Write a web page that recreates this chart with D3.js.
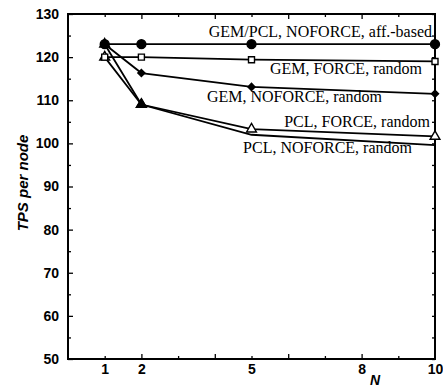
<!DOCTYPE html>
<html>
<head>
<meta charset="utf-8">
<script src="https://cdn.jsdelivr.net/npm/d3@7"></script>
<style>
  html, body { margin: 0; padding: 0; background: #fff; }
  svg { display: block; }
</style>
</head>
<body>
<svg id="chart" width="443" height="392"></svg>
<script>
// ---- data ----
const nValues = [1, 2, 5, 10];
const affBased = [123, 123, 123, 123];          // GEM/PCL, NOFORCE, aff.-based (filled circle)
const gemForce = [120, 120, 119.4, 119.0];      // GEM, FORCE, random (open square)
const gemNoforce = [123, 116.3, 113.1, 111.5];  // GEM, NOFORCE, random (filled diamond)
const pclForce = [120, 109, 103.3, 101.6];      // PCL, FORCE, random (open triangle)
const pclNoforce = [123, 109, 102.0, 99.6];     // PCL, NOFORCE, random (filled triangle)
const xTickLabels = [1, 2, 5, 8, 10];
const yTickLabels = [50, 60, 70, 80, 90, 100, 110, 120, 130];
const labels = [
  "GEM/PCL, NOFORCE, aff.-based",
  "GEM, FORCE, random",
  "GEM, NOFORCE, random",
  "PCL, FORCE, random",
  "PCL, NOFORCE, random"
];

// ---- layout ----
const svg = d3.select("#chart");
const x = d3.scaleLinear().domain([0, 10]).range([68, 435]);
const y = d3.scaleLinear().domain([50, 130]).range([359, 14]);

// drawing order (bottom to top); markerCount: leading points whose marker is visible
const series = [
  { values: pclForce, marker: "triangle", fill: "#fff", markerCount: 4 },
  { values: pclNoforce, marker: "triangle", fill: "#000", markerCount: 2 },
  { values: gemForce, marker: "square", fill: "#fff", markerCount: 4 },
  { values: gemNoforce, marker: "diamond", fill: "#000", markerCount: 4 },
  { values: affBased, marker: "circle", fill: "#000", markerCount: 4 }
];

// frame
svg.append("rect")
  .attr("x", x(0)).attr("y", y(130))
  .attr("width", x(10) - x(0)).attr("height", y(50) - y(130))
  .attr("fill", "none").attr("stroke", "#000").attr("stroke-width", 2);

const tickStroke = g => g.selectAll("line").attr("stroke", "#000").attr("stroke-width", 1.3);

// left axis (major labeled)
const yAxis = svg.append("g").attr("transform", `translate(${x(0)},0)`)
  .call(d3.axisLeft(y).tickValues(yTickLabels).tickSizeInner(-5).tickSizeOuter(0).tickPadding(9).tickFormat(d3.format("d")));
yAxis.select(".domain").remove();
yAxis.selectAll("text").attr("font-family", "Liberation Sans, Arial, sans-serif")
  .attr("font-size", 14).attr("font-weight", "bold").attr("fill", "#000");
tickStroke(yAxis);
// left minor
const yMinor = d3.range(55, 130, 10);
svg.append("g").attr("transform", `translate(${x(0)},0)`)
  .call(d3.axisLeft(y).tickValues(yMinor).tickSizeInner(-3).tickSizeOuter(0).tickFormat(""))
  .call(g => g.select(".domain").remove()).call(tickStroke);
// right ticks
svg.append("g").attr("transform", `translate(${x(10)},0)`)
  .call(d3.axisRight(y).tickValues(d3.range(50, 131, 5)).tickSizeInner(-3).tickSizeOuter(0).tickFormat(""))
  .call(g => g.select(".domain").remove()).call(tickStroke);

// bottom axis
const xMajor = [2, 4, 6, 8];
const xMinor = [1, 3, 5, 7, 9];
svg.append("g").attr("transform", `translate(0,${y(50)})`)
  .call(d3.axisBottom(x).tickValues(xMajor).tickSizeInner(-5).tickSizeOuter(0).tickFormat(""))
  .call(g => g.select(".domain").remove()).call(tickStroke);
svg.append("g").attr("transform", `translate(0,${y(50)})`)
  .call(d3.axisBottom(x).tickValues(xMinor).tickSizeInner(-3).tickSizeOuter(0).tickFormat(""))
  .call(g => g.select(".domain").remove()).call(tickStroke);
const xLab = svg.append("g").attr("transform", `translate(0,${y(50)})`)
  .call(d3.axisBottom(x).tickValues(xTickLabels).tickSize(0).tickPadding(5).tickFormat(d3.format("d")));
xLab.select(".domain").remove();
xLab.selectAll("text").attr("font-family", "Liberation Sans, Arial, sans-serif")
  .attr("font-size", 14).attr("font-weight", "bold").attr("fill", "#000");
// top ticks
svg.append("g").attr("transform", `translate(0,${y(130)})`)
  .call(d3.axisTop(x).tickValues(xMajor).tickSizeInner(-5).tickSizeOuter(0).tickFormat(""))
  .call(g => g.select(".domain").remove()).call(tickStroke);
svg.append("g").attr("transform", `translate(0,${y(130)})`)
  .call(d3.axisTop(x).tickValues(xMinor).tickSizeInner(-3).tickSizeOuter(0).tickFormat(""))
  .call(g => g.select(".domain").remove()).call(tickStroke);

// axis titles
svg.append("text").attr("x", 375).attr("y", 385).attr("text-anchor", "middle")
  .attr("font-family", "Liberation Sans, Arial, sans-serif").attr("font-style", "italic")
  .attr("font-weight", "bold").attr("font-size", 14).text("N");
svg.append("text").attr("transform", "translate(28,183) rotate(-90)").attr("text-anchor", "middle")
  .attr("font-family", "Liberation Sans, Arial, sans-serif").attr("font-style", "italic")
  .attr("font-weight", "bold").attr("font-size", 15).text("TPS per node");

// lines
const line = d3.line().x((d, i) => x(nValues[i])).y(d => y(d));
series.forEach(s => {
  svg.append("path").datum(s.values).attr("d", line)
    .attr("fill", "none").attr("stroke", "#000").attr("stroke-width", 1.8);
});

// markers
const symbolType = { circle: d3.symbolCircle, square: d3.symbolSquare, diamond: d3.symbolSquare, triangle: d3.symbolTriangle };
const symbolSize = { circle: 62, square: 36, diamond: 25, triangle: 42 };
const symbolRot = { circle: 0, square: 0, diamond: 45, triangle: 0 };
series.forEach(s => {
  svg.append("g").selectAll("path").data(s.values.slice(0, s.markerCount)).join("path")
    .attr("transform", (d, i) => `translate(${x(nValues[i])},${y(d)}) rotate(${symbolRot[s.marker]})`)
    .attr("d", d3.symbol().type(symbolType[s.marker]).size(symbolSize[s.marker]))
    .attr("fill", s.fill).attr("stroke", "#000").attr("stroke-width", 1.4);
});

// series labels
const labelPos = [
  { ex: 432, by: 37 },
  { ex: 422, by: 74 },
  { ex: 382, by: 102 },
  { ex: 430, by: 127 },
  { ex: 412, by: 153 }
];
labels.forEach((t, i) => {
  svg.append("text").attr("x", labelPos[i].ex).attr("y", labelPos[i].by)
    .attr("text-anchor", "end")
    .attr("font-family", "Liberation Serif, 'Times New Roman', serif")
    .attr("font-size", 16).attr("fill", "#000").text(t);
});
</script>
</body>
</html>
